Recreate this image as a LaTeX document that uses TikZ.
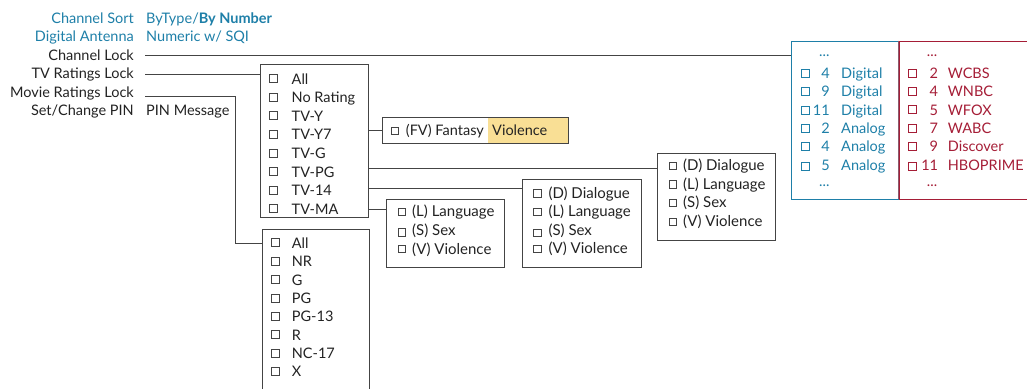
\documentclass[tikz,border=0pt]{standalone}
\usepackage{fontspec}
\setmainfont{Lato}
\definecolor{tblue}{HTML}{1E7FA8}
\definecolor{tred}{HTML}{A51D36}
\definecolor{tgray}{HTML}{222222}
\definecolor{tline}{HTML}{444444}
\definecolor{thl}{HTML}{F9DF95}
\definecolor{tdiv}{HTML}{8C5A6E}
\begin{document}
\begin{tikzpicture}[x=1pt,y=-1pt,
  every node/.style={font=\fontsize{14.5}{17}\selectfont},
  box/.style={draw=tline, line width=0.8pt, inner sep=0, anchor=north west},
  conn/.style={draw=tline, line width=0.8pt},
  lbl/.style={anchor=base east, inner sep=0, text=tgray},
  blbl/.style={anchor=base east, inner sep=0, text=tblue},
  bval/.style={anchor=base west, inner sep=0, text=tblue},
  item/.style={anchor=base west, inner sep=0, text=tgray},
  sitem/.style={anchor=base west, inner sep=0, text=tgray, font=\fontsize{15}{17}\selectfont},
  bitem/.style={anchor=base west, inner sep=0, text=tblue},
  ritem/.style={anchor=base west, inner sep=0, text=tred},
  bnum/.style={anchor=base east, inner sep=0, text=tblue},
  rnum/.style={anchor=base east, inner sep=0, text=tred},
  chkL/.style={draw=tline, line width=0.6pt, inner sep=0, minimum size=8pt, anchor=south west},
  chkS/.style={draw=tline, line width=0.6pt, inner sep=0, minimum size=7.3pt, anchor=south west},
  chkB/.style={draw=tblue, line width=0.6pt, inner sep=0, minimum size=8pt, anchor=south west},
  chkR/.style={draw=tred, line width=0.6pt, inner sep=0, minimum size=8pt, anchor=south west},
]
\useasboundingbox (0,0) rectangle (1027,388);

% left menu
\node[blbl] (csort) at (134,23.3) {Channel Sort};
\node[bval] (csortv) at (146,23.3) {ByType/\textbf{By Number}};
\node[blbl] (dant) at (134,41.6) {Digital Antenna};
\node[bval] (dantv) at (146,41.6) {Numeric w/ SQI};
\node[lbl] (chlock) at (134,60) {Channel Lock};
\node[lbl] (tvlock) at (134,78.6) {TV Ratings Lock};
\node[lbl] (movlock) at (134,97) {Movie Ratings Lock};
\node[lbl] (pin) at (134,115.6) {Set/Change PIN};
\node[item] (pinv) at (146,115.6) {PIN Message};

% boxes
\node[box, minimum width=108pt, minimum height=153pt] (ratings) at (260,64) {};
\node[box, minimum width=107pt, minimum height=170pt] (movie) at (262,229) {};
\fill[thl] (488,117) rectangle (568,143);
\node[box, minimum width=186pt, minimum height=26pt] (fv) at (382,117) {};
\node[box, minimum width=118pt, minimum height=68pt] (subL) at (386,199) {};
\node[box, minimum width=119pt, minimum height=88pt] (subM) at (522,179) {};
\node[box, minimum width=118pt, minimum height=87pt] (subR) at (657,153) {};
\node[box, draw=tblue, minimum width=107pt, minimum height=158pt] (chanB) at (791,40.5) {};
\node[box, draw=tred, minimum width=150pt, minimum height=158pt] (chanR) at (898.5,40.5) {};
\draw[tdiv, line width=0.9pt] (chanR.north west) -- (chanR.south west);

% connectors
\coordinate (chlockc) at (145,55.5);
\coordinate (tvlockc) at (145,74);
\coordinate (movlockc) at (145,96.7);
\coordinate (movbend) at (235,243);
\coordinate (pgc) at (368,168.5);
\coordinate (c14) at (368,188);
\coordinate (cma) at (368,209);
\draw[conn] (chlockc) -- (chanB.west |- chlockc);
\draw[conn] (tvlockc) -- (ratings.west |- tvlockc);
\draw[conn] (movlockc) -| (movbend) -- (movie.west |- movbend);
\draw[conn] (ratings.east |- fv.west) -- (fv.west);
\draw[conn] (ratings.east |- pgc) -- (subR.west |- pgc);
\draw[conn] (ratings.east |- c14) -- (subM.west |- c14);
\draw[conn] (ratings.east |- cma) -- (subL.west |- cma);

% ratings list
\foreach \t [count=\i] in {All,No Rating,TV-Y,TV-Y7,TV-G,TV-PG,TV-14,TV-MA} {
  \pgfmathsetmacro\yb{84+(\i-1)*18.6}
  \node[chkL] (rc\i) at (269.2,\yb-1.3) {};
  \node[item] (r\i) at (291.5,\yb) {\t};
}
% movie list
\foreach \t/\dy [count=\i] in {All/0,NR/0,G/0,PG/1,PG-13/0,R/0,NC-17/1,X/0} {
  \pgfmathsetmacro\yb{248.3+(\i-1)*18.35}
  \node[chkL] (mc\i) at (271,\yb-1.5+\dy) {};
  \node[item] (m\i) at (291.7,\yb) {\t};
}
% fantasy violence
\node[chkS] (fvc) at (391,135) {};
\node[item] (fvt) at (405.7,135) {(FV) Fantasy};
\node[item] (fvv) at (492,135) {Violence};
% sub boxes
\foreach \t/\dy [count=\i] in {(L) Language/0,(S) Sex/2,(V) Violence/0} {
  \pgfmathsetmacro\yb{216.7+(\i-1)*18.65}
  \node[chkS] (lc\i) at (397.5,\yb-1+\dy) {};
  \node[sitem] (l\i) at (412,\yb) {\t};
}
\foreach \t/\dy [count=\i] in {(D) Dialogue/0,(L) Language/0,(S) Sex/2.5,(V) Violence/0} {
  \pgfmathsetmacro\yb{198.3+(\i-1)*18.4}
  \node[chkS] (mdc\i) at (533.3,\yb-1+\dy) {};
  \node[sitem] (md\i) at (548.3,\yb) {\t};
}
\foreach \t/\dy [count=\i] in {(D) Dialogue/0,(L) Language/0,(S) Sex/0,(V) Violence/0} {
  \pgfmathsetmacro\yb{170.7+(\i-1)*18.6}
  \node[chkS] (rdc\i) at (668.5,\yb-1+\dy) {};
  \node[sitem] (rd\i) at (683,\yb) {\t};
}
% channel lists
\node[bitem] (bdots1) at (819,56.7) {...};
\node[bitem] (bdots2) at (819,186.7) {...};
\node[ritem] (rdots1) at (926.7,56.7) {...};
\node[ritem] (rdots2) at (926.7,186.7) {...};
\foreach \n/\t/\dy [count=\i] in {4/Digital/0,9/Digital/0,11/Digital/1,2/Analog/0,4/Analog/0,5/Analog/1.5} {
  \pgfmathsetmacro\yb{78.3+(\i-1)*18.35}
  \node[chkB] (bc\i) at (800.7,\yb-1+\dy) {};
  \node[bnum] (bn\i) at (830,\yb) {\n};
  \node[bitem] (bt\i) at (841,\yb) {\t};
}
\foreach \n/\t/\dy [count=\i] in {2/WCBS/0,4/WNBC/0,5/WFOX/0,7/WABC/0,9/Discover/0,11/HBOPRIME/1.5} {
  \pgfmathsetmacro\yb{78.3+(\i-1)*18.35}
  \node[chkR] (rcc\i) at (908,\yb-1+\dy) {};
  \node[rnum] (rn\i) at (938.3,\yb) {\n};
  \node[ritem] (rt\i) at (947.7,\yb) {\t};
}
\end{tikzpicture}
\end{document}
